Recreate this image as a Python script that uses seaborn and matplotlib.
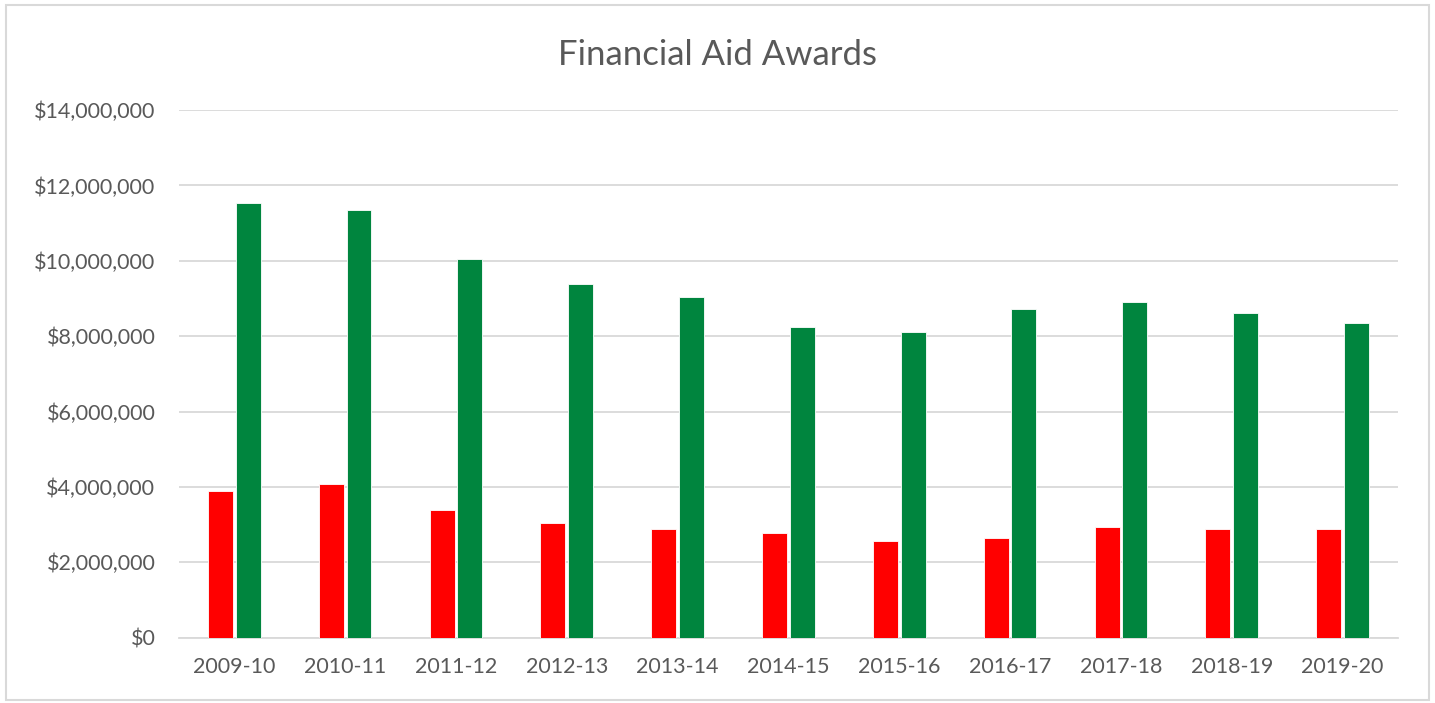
import seaborn as sns
import matplotlib.pyplot as plt
import matplotlib.ticker as mticker
from matplotlib.patches import Rectangle
import pandas as pd

years = ['2009-10', '2010-11', '2011-12', '2012-13', '2013-14', '2014-15',
         '2015-16', '2016-17', '2017-18', '2018-19', '2019-20']
series1 = [3900000, 4080000, 3400000, 3030000, 2880000, 2780000,
           2570000, 2640000, 2930000, 2880000, 2880000]
series2 = [11530000, 11350000, 10050000, 9390000, 9030000, 8240000,
           8120000, 8710000, 8900000, 8610000, 8340000]

df = pd.DataFrame({'year': years, 'Series1': series1, 'Series2': series2})
df = pd.melt(df, id_vars=['year'], value_vars=['Series1', 'Series2'],
             var_name='series', value_name='amount')

sns.set_theme(style="white")
plt.rcParams['font.family'] = ['Lato', 'DejaVu Sans']
text_color = '#595959'
grid_color = '#D9D9D9'

fig = plt.figure(figsize=(14.35, 7.03), dpi=100)
ax = fig.add_axes([0.1247, 0.0929, 0.8495, 0.7506])

palette = {'Series1': '#FF0000', 'Series2': '#00853E'}
sns.barplot(data=df, x='year', y='amount', hue='series', order=years,
            palette=palette, saturation=1, width=0.5, gap=0.1, legend=False,
            edgecolor='white', linewidth=0.6, ax=ax, zorder=3)

ax.set_ylim(0, 14000000)
ax.set_xlim(-0.5, len(years) - 0.5)
ax.yaxis.set_major_locator(mticker.MultipleLocator(2000000))
ax.yaxis.set_major_formatter(mticker.FuncFormatter(lambda v, p: '${:,.0f}'.format(v)))
ax.grid(axis='y', color=grid_color, linewidth=1.3, zorder=0)
ax.set_axisbelow(True)
for s in ['top', 'right', 'left']:
    ax.spines[s].set_visible(False)
ax.spines['bottom'].set_color(grid_color)
ax.spines['bottom'].set_linewidth(1.3)

ax.tick_params(axis='y', length=0, pad=17, labelsize=15.5, labelcolor=text_color)
ax.tick_params(axis='x', length=0, pad=14, labelsize=15.5, labelcolor=text_color)
ax.set_xlabel('')
ax.set_ylabel('')

fig.text(0.5, 0.922, 'Financial Aid Awards', ha='center', va='center',
         fontsize=25, color=text_color)

fig.patches.append(Rectangle((0.0045, 0.004), 0.991, 0.989, transform=fig.transFigure,
                             fill=False, edgecolor=grid_color, linewidth=1.5))

plt.savefig('out.png', dpi=100)
